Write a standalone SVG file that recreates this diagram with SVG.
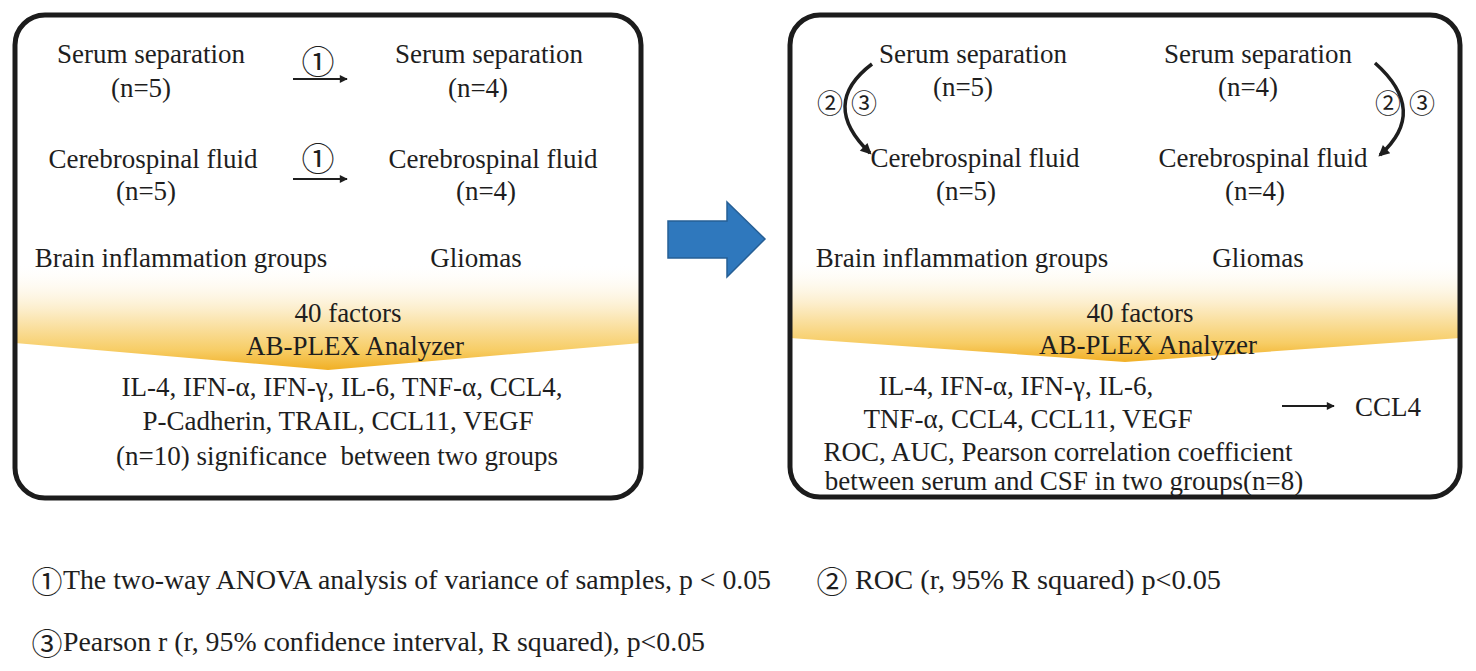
<svg xmlns="http://www.w3.org/2000/svg" width="1476" height="671" viewBox="0 0 1476 671">
<style>
.t{font-family:'Liberation Serif','Times New Roman',serif;font-size:27px;fill:#1e1e1e;text-anchor:middle}
.c{font-family:'Noto Sans CJK JP','DejaVu Sans',sans-serif;fill:#1e1e1e;text-anchor:middle}
.box{fill:none;stroke:#1c1c1c;stroke-width:5}
.ln{stroke:#1e1e1e;stroke-width:2;fill:none}
.arc{stroke:#1e1e1e;stroke-width:3.5;fill:none}
</style>
<defs>
<linearGradient id="gL" x1="0" y1="262" x2="0" y2="372" gradientUnits="userSpaceOnUse">
<stop offset="0" stop-color="#ffffff" stop-opacity="0"/>
<stop offset="0.45" stop-color="#fcecc6"/>
<stop offset="0.8" stop-color="#f7cd66"/>
<stop offset="1" stop-color="#f0ac1e"/>
</linearGradient>
<linearGradient id="gR" x1="0" y1="258" x2="0" y2="364" gradientUnits="userSpaceOnUse">
<stop offset="0" stop-color="#ffffff" stop-opacity="0"/>
<stop offset="0.45" stop-color="#fcecc6"/>
<stop offset="0.8" stop-color="#f7cd66"/>
<stop offset="1" stop-color="#f0ac1e"/>
</linearGradient>
<marker id="ah" viewBox="0 0 10 10" refX="9" refY="5" markerWidth="9" markerHeight="8" markerUnits="userSpaceOnUse" orient="auto">
<path d="M0,0 L10,5 L0,10 Z" fill="#1e1e1e"/>
</marker>
<marker id="ah2" viewBox="0 0 10 10" refX="8" refY="5" markerWidth="13" markerHeight="11" markerUnits="userSpaceOnUse" orient="auto">
<path d="M0,0 L10,5 L0,10 Z" fill="#1e1e1e"/>
</marker>
</defs>
<rect width="1476" height="671" fill="#ffffff"/>

<g id="left-panel">
<polygon points="15,262 641,262 641,343 328,370 15,343" fill="url(#gL)"/>
<rect class="box" x="15" y="15" width="626" height="483" rx="30"/>
</g>
<g id="right-panel">
<polygon points="790,258 1460,258 1460,338 1125,362 790,338" fill="url(#gR)"/>
<rect class="box" x="790" y="15" width="670" height="482" rx="30"/>
</g>

<g id="L-serum-bi"><text class="t" x="151" y="63">Serum separation</text><text class="t" x="141" y="97">(n=5)</text></g>
<g id="L-serum-gl"><text class="t" x="489" y="63">Serum separation</text><text class="t" x="478" y="97">(n=4)</text></g>
<g id="L-csf-bi"><text class="t" x="153" y="168">Cerebrospinal fluid</text><text class="t" x="146" y="200">(n=5)</text></g>
<g id="L-csf-gl"><text class="t" x="493" y="168">Cerebrospinal fluid</text><text class="t" x="486" y="200">(n=4)</text></g>
<g id="L-groups"><text class="t" x="181" y="267">Brain inflammation groups</text><text class="t" x="476" y="267">Gliomas</text></g>
<g id="L-analyzer"><text class="t" x="348" y="322">40 factors</text><text class="t" x="355" y="355">AB-PLEX Analyzer</text></g>
<g id="L-result">
<text class="t" x="342" y="396">IL-4, IFN-α, IFN-γ, IL-6, TNF-α, CCL4,</text>
<text class="t" x="338" y="430">P-Cadherin, TRAIL, CCL11, VEGF</text>
<text class="t" x="337" y="465" style="white-space:pre">(n=10) significance  between two groups</text>
</g>

<g id="R-serum-bi"><text class="t" x="973" y="63">Serum separation</text><text class="t" x="963" y="96">(n=5)</text></g>
<g id="R-serum-gl"><text class="t" x="1258" y="63">Serum separation</text><text class="t" x="1248" y="96">(n=4)</text></g>
<g id="R-csf-bi"><text class="t" x="975" y="167">Cerebrospinal fluid</text><text class="t" x="966" y="200">(n=5)</text></g>
<g id="R-csf-gl"><text class="t" x="1263" y="167">Cerebrospinal fluid</text><text class="t" x="1255" y="200">(n=4)</text></g>
<g id="R-groups"><text class="t" x="962" y="267">Brain inflammation groups</text><text class="t" x="1258" y="267">Gliomas</text></g>
<g id="R-analyzer"><text class="t" x="1140" y="322">40 factors</text><text class="t" x="1148" y="354">AB-PLEX Analyzer</text></g>
<g id="R-result">
<text class="t" x="1016" y="395">IL-4, IFN-α, IFN-γ, IL-6,</text>
<text class="t" x="1028" y="428">TNF-α, CCL4, CCL11, VEGF</text>
<text class="t" x="1058" y="461">ROC, AUC, Pearson correlation coefficient</text>
<text class="t" x="1064" y="490">between serum and CSF in two groups(n=8)</text>
</g>
<g id="R-ccl4"><text class="t" x="1388" y="416">CCL4</text></g>

<g id="big-arrow">
<polygon points="668,221 727,221 727,202 765,239 727,277 727,258 668,258" fill="#2f78bd" stroke="#265f95" stroke-width="1.5"/>
</g>

<g id="connectors">
<line class="ln" x1="293" y1="79" x2="347" y2="79" marker-end="url(#ah)"/>
<line class="ln" x1="293" y1="179" x2="347" y2="179" marker-end="url(#ah)"/>
<line class="ln" x1="1282" y1="406" x2="1334" y2="406" marker-end="url(#ah)"/>
<path class="arc" d="M872,64 Q819,104 870,153" marker-end="url(#ah2)"/>
<path class="arc" d="M1375,63 Q1429,111 1380,155" marker-end="url(#ah2)"/>
<text class="c" x="318" y="74" font-size="33">①</text>
<text class="c" x="318" y="171" font-size="33">①</text>
<text class="c" x="830" y="113" font-size="26">②</text>
<text class="c" x="864" y="113" font-size="26">③</text>
<text class="c" x="1388" y="113" font-size="26">②</text>
<text class="c" x="1422" y="113" font-size="26">③</text>
</g>

<g id="legend">
<text class="c" x="47" y="593" font-size="31">①</text>
<text class="t" x="63" y="589" style="text-anchor:start" textLength="708" lengthAdjust="spacingAndGlyphs">The two-way ANOVA analysis of variance of samples, p &lt; 0.05</text>
<text class="c" x="832" y="593" font-size="31">②</text>
<text class="t" x="855" y="589" style="text-anchor:start" textLength="366" lengthAdjust="spacingAndGlyphs">ROC (r, 95% R squared) p&lt;0.05</text>
<text class="c" x="47" y="655" font-size="31">③</text>
<text class="t" x="63" y="651" style="text-anchor:start" textLength="642" lengthAdjust="spacingAndGlyphs">Pearson r (r, 95% confidence interval, R squared), p&lt;0.05</text>
</g>
</svg>
